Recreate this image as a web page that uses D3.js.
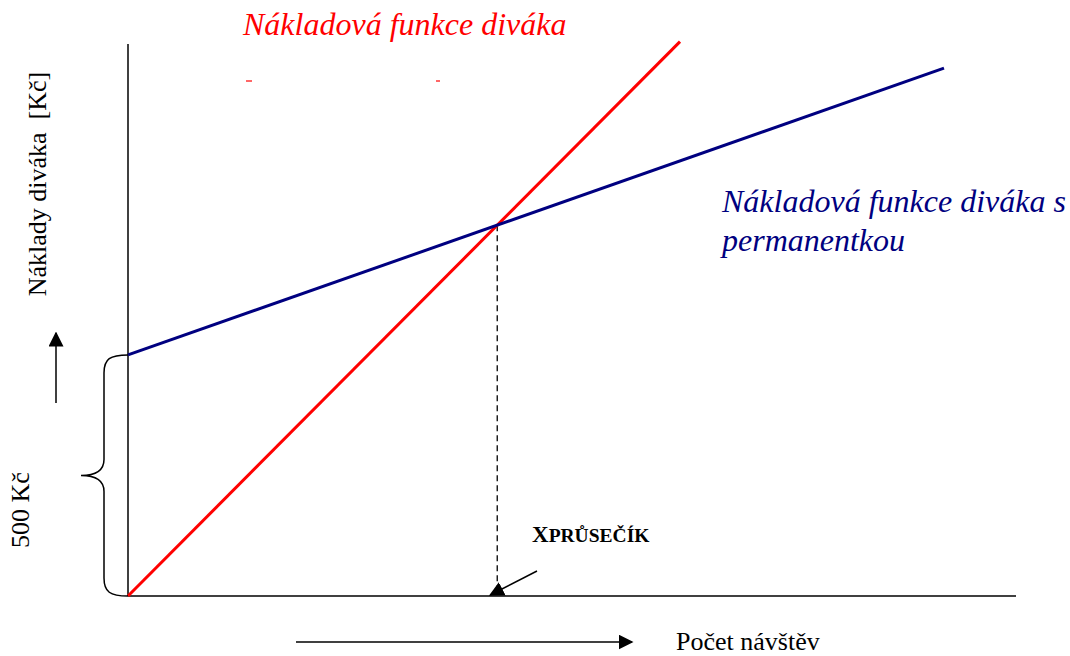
<!DOCTYPE html>
<html>
<head>
<meta charset="utf-8">
<script src="https://cdn.jsdelivr.net/npm/d3@7"></script>
<style>
body{margin:0;background:#fff;}
svg{display:block;}
</style>
</head>
<body>
<div id="chart"></div>
<script>
(function(){

// data
const ticketVisits = [0, 11.5];
const ticketCost = [0, 1150];
const passVisits = [0, 17];
const passCost = [500, 1095];
const passFee = 500;
const ticketPrice = 100;
const passVisitPrice = 35;

const width = 1070;
const height = 656;
const serif = "'Liberation Serif', 'DejaVu Serif', 'Times New Roman', serif";

const svg = d3.select("#chart")
.append("svg")
.attr("width",width)
.attr("height",height)
.attr("font-family",serif);

const x = d3.scaleLinear()
.domain([0,18.5])
.range([128,1016]);

const y = d3.scaleLinear()
.domain([0,1145])
.range([596,44]);

const defs = svg.append("defs");
defs.append("marker")
.attr("id","tri")
.attr("viewBox","0 0 10 10")
.attr("refX",9).attr("refY",5)
.attr("markerWidth",15).attr("markerHeight",15)
.attr("markerUnits","userSpaceOnUse")
.attr("orient","auto")
.append("path")
.attr("d","M0,0L10,5L0,10Z")
.attr("fill","#000");

// axes (plain lines, no ticks)
svg.append("line")
.attr("x1",x(0)).attr("x2",x(0))
.attr("y1",y(1145)).attr("y2",y(0))
.attr("stroke","#000").attr("stroke-width",1.5);

svg.append("line")
.attr("x1",x(0)).attr("x2",x(18.5))
.attr("y1",y(0)).attr("y2",y(0))
.attr("stroke","#000").attr("stroke-width",1.5);

const line = d3.line().x(d=>x(d[0])).y(d=>y(d[1]));

// intersection
const xi = passFee/(ticketPrice-passVisitPrice);
const yi = ticketPrice*xi;

svg.append("line")
.attr("x1",x(xi)).attr("x2",x(xi))
.attr("y1",y(yi)).attr("y2",y(0)-6)
.attr("stroke","#000").attr("stroke-width",1.3)
.attr("stroke-dasharray","6,4");

svg.append("path")
.datum(ticketVisits.map((v,i)=>[v,ticketCost[i]]))
.attr("d",line)
.attr("fill","none")
.attr("stroke","#ff0000")
.attr("stroke-width",3);

svg.append("path")
.datum(passVisits.map((v,i)=>[v,passCost[i]]))
.attr("d",line)
.attr("fill","none")
.attr("stroke","#000080")
.attr("stroke-width",3);

// brace for the 500 Kč fee
const bx = x(0), bt = y(passFee), bb = y(0), bm = (bt+bb)/2;
svg.append("path")
.attr("d",`M${bx},${bt} C${bx-18},${bt} ${bx-24},${bt+4} ${bx-24},${bt+18}
 L${bx-24},${bm-16} C${bx-24},${bm-4} ${bx-34},${bm} ${bx-47},${bm}
 C${bx-34},${bm} ${bx-24},${bm+4} ${bx-24},${bm+16}
 L${bx-24},${bb-18} C${bx-24},${bb-4} ${bx-18},${bb} ${bx},${bb}`)
.attr("fill","none")
.attr("stroke","#000")
.attr("stroke-width",1.5);

// pointer arrow to intersection on x axis
svg.append("line")
.attr("x1",537).attr("y1",571)
.attr("x2",x(xi)-7).attr("y2",y(0)-1)
.attr("stroke","#000").attr("stroke-width",1.5)
.attr("marker-end","url(#tri)");

// direction arrows
svg.append("line")
.attr("x1",56).attr("y1",403)
.attr("x2",56).attr("y2",333)
.attr("stroke","#000").attr("stroke-width",1.5)
.attr("marker-end","url(#tri)");

svg.append("line")
.attr("x1",296).attr("y1",642)
.attr("x2",632).attr("y2",642)
.attr("stroke","#000").attr("stroke-width",1.5)
.attr("marker-end","url(#tri)");

// small stray marks
[[246,252],[436,440]].forEach(d=>{
svg.append("line")
.attr("x1",d[0]).attr("x2",d[1])
.attr("y1",81).attr("y2",81)
.attr("stroke","#ff0000").attr("stroke-width",1.2);
});

// labels
svg.append("text")
.attr("x",243).attr("y",35)
.attr("font-size","32px")
.attr("font-style","italic")
.attr("fill","#ff0000")
.text("Nákladová funkce diváka");

svg.append("text")
.attr("x",722).attr("y",212)
.attr("font-size","32px")
.attr("font-style","italic")
.attr("fill","#000080")
.text("Nákladová funkce diváka s");

svg.append("text")
.attr("x",722).attr("y",251)
.attr("font-size","32px")
.attr("font-style","italic")
.attr("fill","#000080")
.text("permanentkou");

svg.append("text")
.attr("transform","translate(46,184) rotate(-90)")
.attr("text-anchor","middle")
.attr("font-size","26px")
.style("white-space","pre")
.text("Náklady diváka  [Kč]");

svg.append("text")
.attr("transform","translate(29,510) rotate(-90)")
.attr("text-anchor","middle")
.attr("font-size","26px")
.text("500 Kč");

svg.append("text")
.attr("x",676).attr("y",650)
.attr("font-size","26px")
.text("Počet návštěv");

const lab = svg.append("text")
.attr("x",532).attr("y",542)
.attr("font-weight","bold");
lab.append("tspan").attr("font-size","23px").text("X");
lab.append("tspan").attr("font-size","19.5px").text("PRŮSEČÍK");

})();
</script>
</body>
</html>
